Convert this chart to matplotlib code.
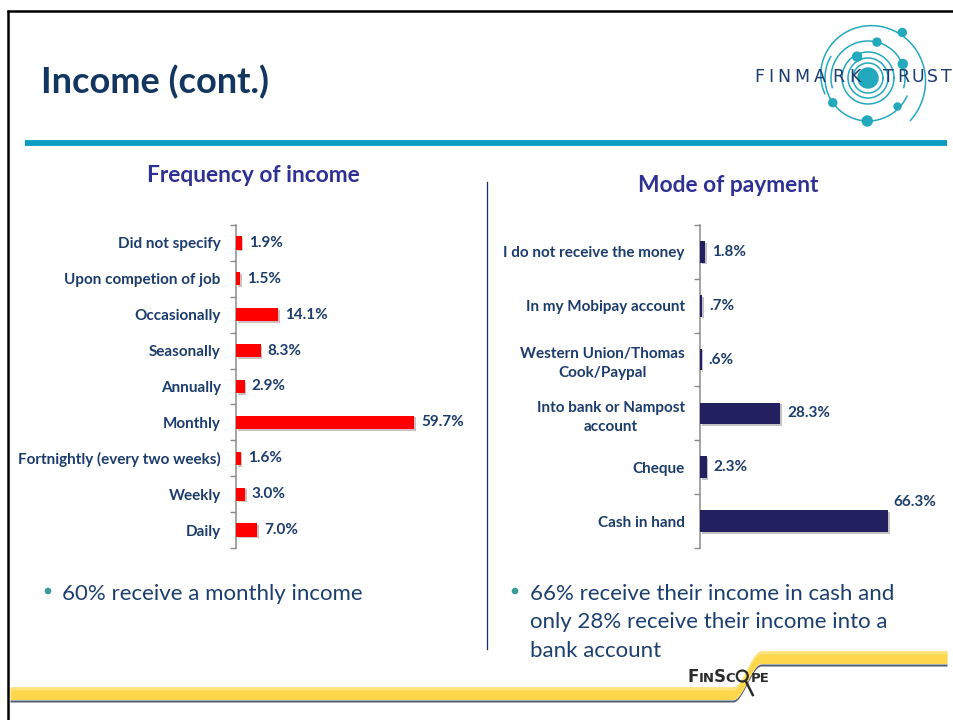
import matplotlib
matplotlib.use("Agg")
import matplotlib.pyplot as plt
import numpy as np
from matplotlib import patheffects as pe
from matplotlib.patches import Circle
from matplotlib.textpath import TextPath
from matplotlib.font_manager import FontProperties

plt.rcParams["font.family"] = ["Lato", "DejaVu Sans"]

# ---- data -------------------------------------------------------------
freq_labels = ["Did not specify", "Upon competion of job", "Occasionally",
               "Seasonally", "Annually", "Monthly",
               "Fortnightly (every two weeks)", "Weekly", "Daily"]
freq_values = [1.9, 1.5, 14.1, 8.3, 2.9, 59.7, 1.6, 3.0, 7.0]

mode_labels = ["I do not receive the money", "In my Mobipay account",
               "Western Union/Thomas\nCook/Paypal",
               "Into bank or Nampost\naccount", "Cheque", "Cash in hand"]
mode_values = [1.8, 0.7, 0.6, 28.3, 2.3, 66.3]

title = "Income (cont.)"
left_title = "Frequency of income"
right_title = "Mode of payment"
left_note = "60% receive a monthly income"
right_note = ("66% receive their income in cash and\n"
              "only 28% receive their income into a\nbank account")

# ---- styling ----------------------------------------------------------
W, H = 954, 720
NAVY = "#1C3C6C"
TITLE_NAVY = "#12365F"
SUB = "#2E3192"
RED = "#FF0000"
DARK_BAR = "#23205F"
TEAL = "#0A9CC1"
LOGO = "#23A9BC"
AXIS_GREY = "#8C8C8C"
YELLOW = "#FDD64B"
PX = 100 / 72  # pixels per point


def rect(x0, y0, x1, y1):
    """Figure-fraction rectangle from pixel edges (origin top-left)."""
    return [x0 / W, 1 - y1 / H, (x1 - x0) / W, (y1 - y0) / H]


def pct(v):
    s = f"{v:.1f}%"
    return s[1:] if s.startswith("0") else s


def glyph_width(s, fs, prop):
    return TextPath((0, 0), s, size=fs * PX, prop=prop).get_extents().width


fig = plt.figure(figsize=(W / 100, H / 100), dpi=100)
fig.patch.set_facecolor("white")

# overlay in pixel units for slide decoration
deco = fig.add_axes([0, 0, 1, 1], zorder=0)
deco.set_xlim(0, W)
deco.set_ylim(H, 0)
deco.axis("off")

# slide frame
deco.plot([8, 8], [10, H], color="black", lw=1.8, solid_capstyle="butt")
deco.plot([7, W], [10.5, 10.5], color="black", lw=1.8, solid_capstyle="butt")

# title and rule
deco.text(41, 82, title, fontsize=26, fontweight="bold", color=TITLE_NAVY,
          ha="left", va="center")
deco.plot([25, 947], [143, 143], color=TEAL, lw=4.2, solid_capstyle="butt")

# logo: orbit rings with planets
cx, cy = 868, 78
deco.add_patch(Circle((cx, cy), 10, color=LOGO, zorder=3))
for r in (15, 20, 26):
    t = np.linspace(0, 2 * np.pi, 200)
    deco.plot(cx + r * np.cos(t), cy - r * np.sin(t), color=LOGO, lw=1.1)
t = np.radians(np.linspace(-15, 195, 200))
deco.plot(cx + 37 * np.cos(t), cy - 37 * np.sin(t), color=LOGO, lw=1.1)
t = np.radians(np.linspace(150, 335, 200))
deco.plot(cx + 43 * np.cos(t), cy - 43 * np.sin(t), color=LOGO, lw=1.1)
t = np.radians(np.linspace(200, -45, 300))
r_out = np.linspace(46, 60, 300)
deco.plot(cx + r_out * np.cos(t), cy - r_out * np.sin(t), color=LOGO, lw=1.1)
for r, a, s in [(24, 117, 4.5), (37, 76, 4), (37.5, 22, 4.5), (57, 53, 4),
                (41, -44, 3.5), (43, -91, 5), (43, -145, 4)]:
    deco.add_patch(Circle((cx + r * np.cos(np.radians(a)),
                           cy - r * np.sin(np.radians(a))), s, color=LOGO,
                          zorder=3))

logo_prop = FontProperties(family="DejaVu Sans")
for word, x0, x1 in [("FINMARK", 756, 860), ("TRUST", 883, 952)]:
    widths = [glyph_width(ch, 12.5, logo_prop) for ch in word]
    gap = (x1 - x0 - sum(widths)) / (len(word) - 1)
    x = x0
    for ch, w in zip(word, widths):
        deco.text(x + w / 2, 82, ch, fontsize=12.5, color="#1D3B6E",
                  family="DejaVu Sans", ha="center", va="baseline",
                  zorder=4)
        x += w + gap

# column subtitles and divider
deco.text(253.5, 175, left_title, fontsize=16.4, fontweight="bold",
          color=SUB, ha="center", va="center")
deco.text(728.5, 185, right_title, fontsize=16.4, fontweight="bold",
          color=SUB, ha="center", va="center")
deco.plot([487, 487], [182, 649], color="#1F2A6B", lw=0.9)

# bullet notes
for bx, tx, txt in [(48, 62, left_note), (515, 530, right_note)]:
    deco.add_patch(Circle((bx, 591), 2.6, color="#3A9A9A"))
    deco.text(tx, 584, txt, fontsize=16, color="#1B3F6E",
              ha="left", va="top", linespacing=1.52)

# bottom swoosh
xs = np.linspace(10, 947, 800)
u = np.clip((xs - 733) / 28, 0, 1)
step = u * u * (3 - 2 * u)
yc = 693 - 36 * step
deco.fill_between(xs, yc + 7, yc + 9, color="#4D5C6E", lw=0)
deco.fill_between(xs, yc - 6, yc + 6.5, color=YELLOW, lw=0)
deco.fill_between(xs, yc - 6, yc - 3, color="#FEE37A", lw=0)

# FinScope mark
fs_prop = FontProperties(family="DejaVu Sans", weight="bold")
x = 688
for ch, size in [("F", 12), ("IN", 9.5), ("S", 12), ("C", 9.5), (None, 0),
                 ("PE", 9.5)]:
    if ch is None:
        deco.add_patch(Circle((x + 6.5, 676), 5.5, fill=False, ec="#2B2B2B",
                              lw=1.6, zorder=5))
        deco.plot([x + 10, x + 17], [681, 695], color="#2B2B2B", lw=1.8,
                  zorder=5)
        x += 15
        continue
    w = glyph_width(ch, size, fs_prop)
    deco.text(x, 682, ch, fontsize=size, fontweight="bold",
              family="DejaVu Sans", color="#2B2B2B", ha="left",
              va="baseline", zorder=5)
    x += w + 2

# ---- charts -----------------------------------------------------------
shadow = [pe.SimplePatchShadow(offset=(1.2, -1.2), alpha=0.25), pe.Normal()]


def bar_panel(box, labels, values, color, height, xmax, big_label=False):
    ax = fig.add_axes(rect(*box), zorder=2)
    ax.patch.set_alpha(0)
    n = len(values)
    pos = np.arange(n)
    bars = ax.barh(pos, values, height=height, color=color, zorder=3)
    for b in bars:
        b.set_path_effects(shadow)
    ax.set_ylim(n - 0.5, -0.5)
    ax.set_xlim(0, xmax)
    for s in ("top", "right", "bottom"):
        ax.spines[s].set_visible(False)
    ax.spines["left"].set_color(AXIS_GREY)
    ax.spines["left"].set_linewidth(1.1)
    ax.set_xticks([])
    ax.set_yticks(pos)
    ax.set_yticklabels(labels, fontsize=11, fontweight="bold", color=NAVY,
                       multialignment="center")
    for lbl in ax.get_yticklabels():
        lbl.set_linespacing(1.45)
    ax.set_yticks(np.arange(n + 1) - 0.5, minor=True)
    ax.tick_params(axis="y", which="major", length=0, pad=11)
    ax.tick_params(axis="y", which="minor", length=4, width=1,
                   color=AXIS_GREY, direction="out")
    for i, v in enumerate(values):
        if big_label and v == max(values):
            ax.annotate(pct(v), xy=(v, i), xytext=(19, 14),
                        textcoords="offset points", ha="center",
                        va="center", fontsize=11, fontweight="bold",
                        color=NAVY)
        else:
            ax.annotate(pct(v), xy=(v, i), xytext=(5, 0),
                        textcoords="offset points", ha="left", va="center",
                        fontsize=11, fontweight="bold", color=NAVY)
    return ax


bar_panel((236, 225, 480, 548), freq_labels, freq_values, RED, 0.37,
          244 / 2.98)
bar_panel((700, 225, 950, 548), mode_labels, mode_values, DARK_BAR, 0.40,
          250 / 2.836, big_label=True)

fig.savefig("out.png", dpi=100, facecolor="white")
